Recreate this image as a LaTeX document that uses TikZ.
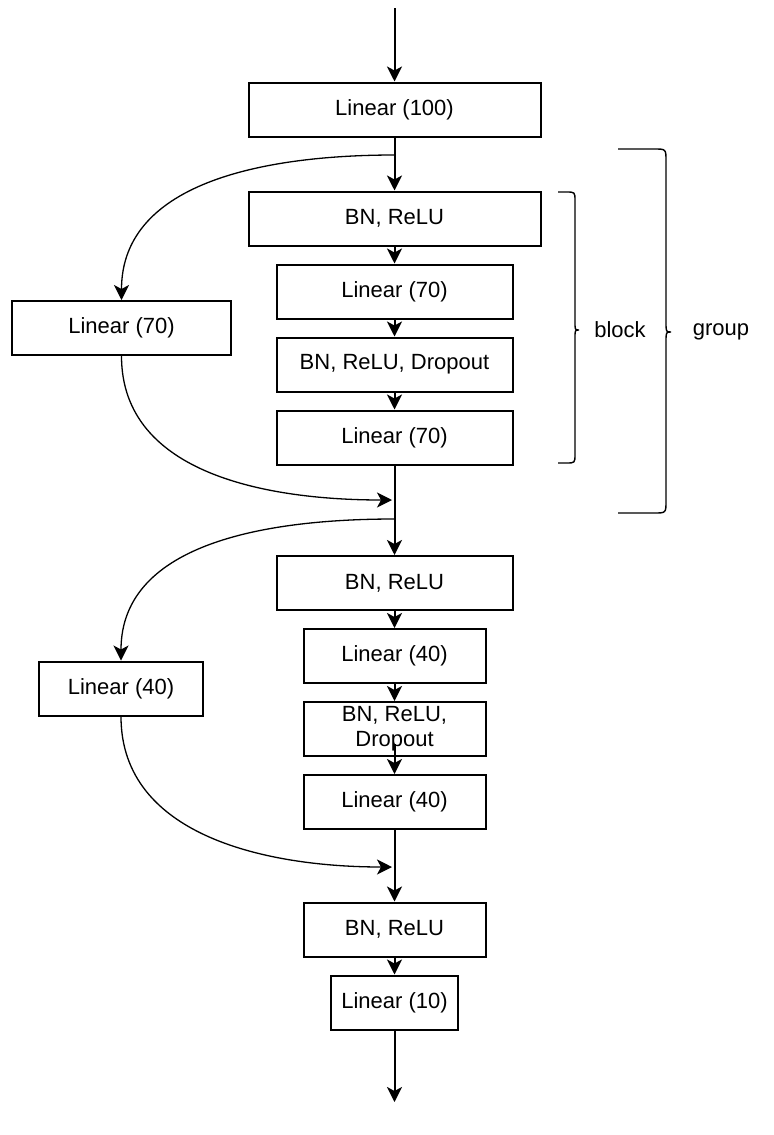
\documentclass[tikz,border=0pt]{standalone}
\usepackage{fontspec}
\setmainfont{Liberation Sans}
\usetikzlibrary{arrows.meta}

\tikzstyle{layer} = [align=center,draw=black,line width=1pt,rectangle,inner sep=0pt,minimum height=27pt,font=\fontsize{11}{12.5}\selectfont]
\tikzstyle{flow} = [line width=1pt,-{Stealth[length=7.5pt,width=7.5pt,inset=2pt]}]
\tikzstyle{shortcut} = [line width=0.65pt,-{Stealth[length=7.5pt,width=7.5pt,inset=2pt]}]
\tikzstyle{brace} = [line width=0.7pt]
\tikzstyle{bracetext} = [font=\fontsize{11}{12.5}\selectfont]

\begin{document}
\begin{tikzpicture}[x=0.5pt,y=-0.5pt,node distance=36.5pt]
	\useasboundingbox (0,0) rectangle (774,1135);
	% first group
	\node (lin100) [layer,minimum width=146pt] at (394.5,109.5) {Linear (100)};
	\node (bnr1) [layer,minimum width=146pt,node distance=54.5pt,below of=lin100] {BN, ReLU};
	\node (lin70a) [layer,minimum width=118pt,below of=bnr1] {Linear (70)};
	\node (bnrd1) [layer,minimum width=118pt,below of=lin70a] {BN, ReLU, Dropout};
	\node (lin70b) [layer,minimum width=118pt,below of=bnrd1] {Linear (70)};
	\node (left70) [layer,minimum width=109.5pt] at (121.5,328) {Linear (70)};
	% second group
	\node (bnr2) [layer,minimum width=118pt,node distance=72.75pt,below of=lin70b] {BN, ReLU};
	\node (lin40a) [layer,minimum width=91pt,below of=bnr2] {Linear (40)};
	\node (bnrd2) [layer,minimum width=91pt,below of=lin40a] {BN, ReLU,\\Dropout};
	\node (lin40b) [layer,minimum width=91pt,below of=bnrd2] {Linear (40)};
	\node (left40) [layer,minimum width=82pt] at (121,688.5) {Linear (40)};
	% output
	\node (bnr3) [layer,minimum width=91pt,node distance=63.75pt,below of=lin40b] {BN, ReLU};
	\node (lin10) [layer,minimum width=63.5pt,below of=bnr3] {Linear (10)};
	% junctions
	\coordinate (in) at (394.5,8);
	\coordinate (split1) at (394.5,155);
	\coordinate (merge1) at (392,500);
	\coordinate (split2) at (394.5,519);
	\coordinate (merge2) at (392,867);
	\coordinate (out) at (394.5,1102);
	% connections
	\draw [flow] (in) -- (lin100);
	\draw [flow] (lin100) -- (bnr1);
	\draw [flow] (bnr1) -- (lin70a);
	\draw [flow] (lin70a) -- (bnrd1);
	\draw [flow] (bnrd1) -- (lin70b);
	\draw [flow] (lin70b) -- (bnr2);
	\draw [shortcut] (split1) to[out=180,in=90] (left70.north);
	\draw [shortcut] (left70.south) to[out=-90,in=180] (merge1);
	\draw [flow] (bnr2) -- (lin40a);
	\draw [flow] (lin40a) -- (bnrd2);
	\draw [flow] ([yshift=6.5pt]bnrd2.south) -- (lin40b);
	\draw [flow] (lin40b) -- (bnr3);
	\draw [shortcut] (split2) to[out=180,in=90] (left40.north);
	\draw [shortcut] (left40.south) to[out=-90,in=180] (merge2);
	\draw [flow] (bnr3) -- (lin10);
	\draw [flow] (lin10) -- (out);
	% braces
	\draw [brace] (558,192) -- (566,192) .. controls (575,192) .. (575,201) -- (575,322) .. controls (575,330) .. (579,330) .. controls (575,330) .. (575,338) -- (575,454) .. controls (575,463) .. (566,463) -- (558,463);
	\draw [brace] (618,149) -- (654,149) .. controls (666,149) .. (666,161) -- (666,322) .. controls (666,332) .. (671,332) .. controls (666,332) .. (666,342) -- (666,501) .. controls (666,513) .. (654,513) -- (618,513);
	\node (blocklbl) [bracetext] at (620,330) {block};
	\node (grouplbl) [bracetext] at (721,332) {group};
\end{tikzpicture}
\end{document}
